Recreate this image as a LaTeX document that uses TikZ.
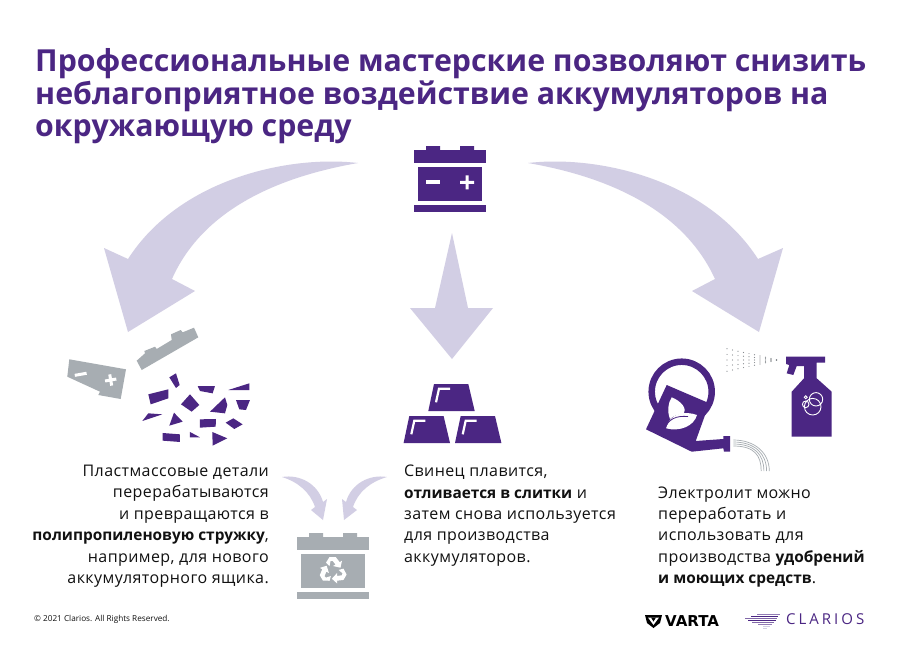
\documentclass[tikz,border=0pt]{standalone}
\usepackage{fontspec}
\setmainfont{Open Sans}
\newfontfamily\bodyfont[LetterSpace=2.6]{Open Sans}
\newfontfamily\logofont[LetterSpace=20]{Open Sans}
\newfontfamily\vartafont{DejaVu Sans}
\usetikzlibrary{calc,positioning}
\definecolor{vtPurple}{HTML}{4B2683}
\definecolor{vtLilac}{HTML}{D2CEE4}
\definecolor{vtGrey}{HTML}{A7ADB2}
\definecolor{vtInk}{HTML}{111111}
\tikzset{
  bodytext/.style={font=\bodyfont\fontsize{16}{21.35}\selectfont, text=vtInk, inner sep=0pt},
  titletext/.style={font=\fontsize{30.3}{32.5}\selectfont\bfseries, text=vtPurple, inner sep=0pt, align=left},
}
\newcommand{\strongtext}[1]{{\normalfont\bfseries\fontsize{15.4}{21.35}\selectfont #1}}
% battery icon, 72 wide, drawn from its top left corner
\newcommand{\batteryicon}[1]{
  \fill[#1] (12,0) rectangle (26,4) (46,0) rectangle (60,4);
  \fill[#1] (0,4) rectangle (72,17);
  \fill[#1] (4,21) rectangle (68,55);
  \fill[#1] (0,59) rectangle (72,66);
}
\begin{document}
\begin{tikzpicture}[x=1pt,y=-1pt]
  \useasboundingbox (0,0) rectangle (900,649);
  \fill[white] (0,0) rectangle (900,649);

  % Title
  \node[titletext, anchor=north west] (title) at (35,48.5) {Профессиональные мастерские позволяют снизить\\неблагоприятное воздействие аккумуляторов на\\окружающую среду};

  % Big arrows
  \fill[vtLilac] (358,163) .. controls (290,155) and (180,178) .. (128,259) -- (104,248) -- (128,332) -- (195,291) -- (172,279) .. controls (198,220) and (260,180) .. (358,163) -- cycle;
  \fill[vtLilac] (528,163) .. controls (596,155) and (706,178) .. (758,259) -- (783,248) -- (759,332) -- (692,291) -- (715,279) .. controls (688,220) and (626,180) .. (528,163) -- cycle;
  \fill[vtLilac] (452,233) -- (468,308) -- (493,308) -- (452,359) -- (410,308) -- (435,308) -- cycle;

  % Top battery
  \begin{scope}[shift={(414,146)}]
    \batteryicon{vtPurple}
    \fill[white] (12,34) rectangle (26,38);
    \fill[white] (46,34.8) rectangle (60,37.8) (51.5,29.3) rectangle (54.5,43.3);
  \end{scope}

  % Broken case, grey pieces
  \fill[vtGrey] (69.3,359.3) -- (126,369.3) -- (120.7,399) -- (98.3,395) -- (100,391.7) -- (67.3,376.7) -- cycle;
  \fill[white, rotate around={10:(80.7,374.3)}] (74.7,372.8) rectangle (86.7,375.8);
  \fill[white, rotate around={10:(110.7,380)}] (105,378.5) rectangle (116.4,381.5) (109.2,374.3) rectangle (112.2,385.7);
  \fill[vtGrey] (136.7,360.7) -- (145,353.3) -- (144.3,351) -- (155,346.7) -- (156.7,349) -- (171.7,340) -- (171,334.3) -- (180.7,330) -- (182.7,332.3) -- (194,327.7) -- (198.3,337.3) -- (141.7,370) -- cycle;

  % Plastic chips
  \begin{scope}[shift={(50,330)}, x=0.3333pt, y=-0.3333pt]
    \foreach \chip in {
      {(358,142) -- (378,130) -- (389,165) -- (378,174)},
      {(295,193) -- (355,178) -- (355,205) -- (302,223)},
      {(443,168) -- (495,168) -- (488,190) -- (450,183)},
      {(535,180) -- (598,160) -- (598,180)},
      {(558,210) -- (600,210) -- (588,240) -- (568,238)},
      {(393,223) -- (420,193) -- (448,225) -- (425,245)},
      {(480,245) -- (525,202) -- (532,225) -- (525,250)},
      {(277,273) -- (295,250) -- (337,253)},
      {(358,287) -- (372,248) -- (398,275)},
      {(450,268) -- (498,267) -- (497,290) -- (450,293)},
      {(527,278) -- (550,265) -- (578,283) -- (553,297)},
      {(338,309) -- (390,313) -- (390,336) -- (338,332)},
      {(420,306) -- (450,322) -- (420,322)},
      {(487,306) -- (532,325) -- (488,347)}}
      \fill[vtPurple] \chip -- cycle;
  \end{scope}

  % Lead ingots
  \foreach \dx/\dy in {0/0, -24.7/32, 26.7/32} {
    \begin{scope}[shift={(\dx,\dy)}]
      \fill[vtPurple] (434,384) -- (468.3,384) -- (474.7,411) -- (428.3,411) -- cycle;
      \draw[white, line width=2.2pt] (436,402.3) -- (439,388.7) -- (450,388.7);
    \end{scope}
  }

  % Watering can
  \draw[vtPurple, line width=6.5pt] (681.7,391.7) circle (30);
  \fill[vtPurple] (666.7,385) -- (709.3,403.3) -- (695.7,441) -- (723.3,439) -- (723.3,436) -- (730,436) -- (730,451.7) -- (724,451.7) -- (723.3,448.3) -- (691.7,451.7) -- (646,429.3) -- cycle;
  \fill[white] (671.7,397.3) .. controls (681,401) and (688,409) .. (683,414) .. controls (678,414) and (673,416) .. (670,419) .. controls (667,411) and (668,403) .. (671.7,397.3) -- cycle;
  \fill[white] (666,428.3) .. controls (680,432) and (694,426) .. (697,415) .. controls (686,411) and (670,412) .. (666,428.3) -- cycle;
  \draw[vtPurple, line width=0.8pt] (665,429) .. controls (668,419) and (676,415.5) .. (688,416.5);

  % Water
  \foreach \i in {0,...,3}
    \draw[vtGrey, line width=0.7pt] (733.3,440+2*\i) .. controls (755,440+2*\i) and (769.3-2.7*\i,453+\i) .. (769.3-2.7*\i,471);

  % Spray bottle
  \fill[vtPurple] (786,356.7) -- (825,356.7) -- (825,362.7) -- (816.7,362.7) -- (816.7,378.3) -- (831.7,391.7) -- (831.7,436.7) -- (791.7,436.7) -- (791.7,391.7) -- (804,378.3) -- (804,366) -- (796.7,366) -- (793.3,375) -- (786.7,373.3) -- (789.3,365) -- (786,364) -- cycle;
  \draw[white, line width=0.9pt] (812.7,406.7) circle (8.3) (816,399.3) circle (6.7) (805.7,404.3) circle (3.3);
  \draw[white, line width=0.9pt] (805.7,397.3) circle (1.5);

  % Spray mist
  \foreach \s in {-1,-0.5,0,0.5,1}
    \foreach \px in {727,732.5,...,778}
      \fill[vtGrey!80!black] (\px,{360+\s*(778-\px)*0.22}) circle (0.6);

  % Small arrows towards the new case
  \fill[vtLilac] (282,477) .. controls (300,474) and (318,484) .. (323,502) -- (327,499) -- (323,520) -- (311,510) -- (315,507) .. controls (310,492) and (298,482) .. (282,477) -- cycle;
  \fill[vtLilac] (387,477) .. controls (369,474) and (351,484) .. (346,502) -- (342,499) -- (344,520) -- (357,510) -- (353,507) .. controls (358,492) and (370,482) .. (387,477) -- cycle;

  % Recycled battery
  \begin{scope}[shift={(297,533)}]
    \batteryicon{vtGrey}
  \end{scope}
  \foreach \ang in {0,120,240}
    \fill[white, shift={(333,570.7)}, rotate=-\ang] (-7,-8) -- (-3.5,-13.7) -- (2.7,-13.7) -- (6.7,-8.5) -- (9,-10) -- (7.5,-3) -- (0,-4.7) -- (2.5,-6.2) -- (-0.5,-10) -- (-2.5,-9.5) -- (-3.5,-4.5) -- cycle;

  % Body texts
  \node[bodytext, anchor=north east, align=right] (plastictext) at (269,465) {Пластмассовые детали\\перерабатываются\\и превращаются в\\\strongtext{полипропиленовую стружку},\\например, для нового\\аккумуляторного ящика.};
  \node[bodytext, anchor=north west, align=left] (leadtext) at (404,465) {Свинец плавится,\\\strongtext{отливается в слитки} и\\затем снова используется\\для производства\\аккумуляторов.};
  \node[bodytext, anchor=north west, align=left] (acidtext) at (658,486.5) {Электролит можно\\переработать и\\использовать для\\производства \strongtext{удобрений}\\\strongtext{и моющих средств}.};

  % Footer
  \node[font=\fontsize{8.2}{10}\selectfont, text=vtInk, anchor=west, inner sep=0pt] (rights) at (34,619.5) {© 2021 Clarios. All Rights Reserved.};

  % Varta logo
  \fill[black] (645,615) -- (662,615) -- (660,623) -- (653.5,628) -- (647,623) -- cycle;
  \fill[white] (648,617.5) -- (659,617.5) -- (653.5,625) -- cycle;
  \fill[black] (651,617.5) -- (656,617.5) -- (653.5,621.5) -- cycle;
  \node[font=\vartafont\fontsize{15}{16}\selectfont\bfseries, text=black, anchor=west, inner sep=0pt] (varta) at (665,621.5) {VARTA};

  % Clarios logo
  \foreach \sx/\ex/\sy/\col in {757/780/614.5/vtPurple!60, 751/778/616.5/vtPurple, 745/777/618.5/vtPurple!70, 748/776/620.5/vtPurple, 752/774/622.5/vtPurple!70, 758/772/624.5/vtPurple!60, 763/770/626.5/vtLilac, 763/767/628.5/vtLilac}
    \draw[\col, line width=1pt] (\sx,\sy) -- (\ex,\sy);
  \node[font=\logofont\fontsize{15}{16}\selectfont, text=vtPurple, anchor=west, inner sep=0pt] (clarios) at (786,619.5) {CLARIOS};
\end{tikzpicture}
\end{document}
